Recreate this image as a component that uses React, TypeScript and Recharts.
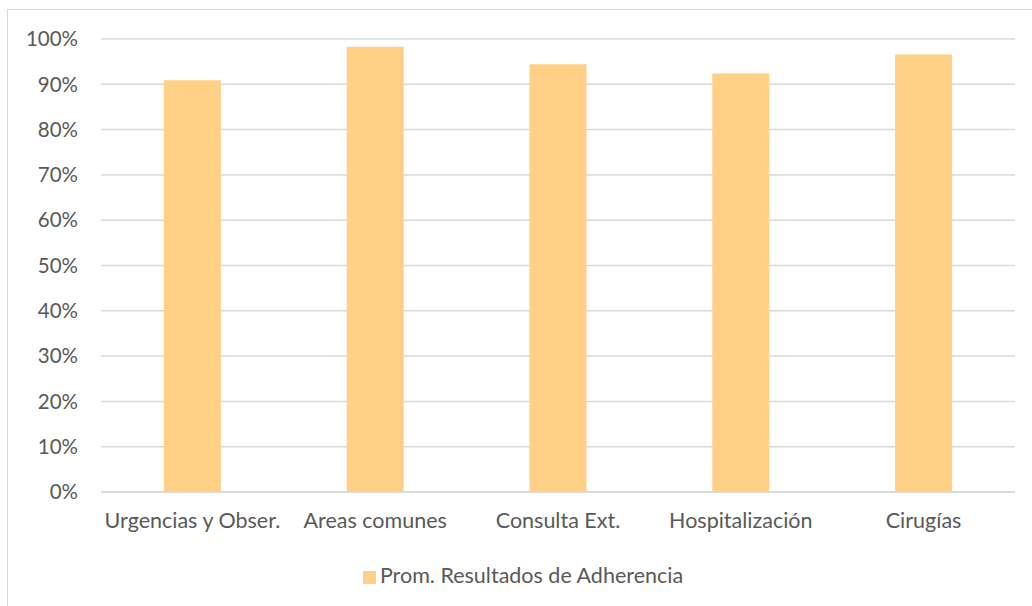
import React from "react";
import { BarChart, Bar, XAxis, YAxis, CartesianGrid, Legend } from "recharts";

// Áreas evaluadas y promedio de adherencia por área
const areas = [
  "Urgencias y Obser.",
  "Areas comunes",
  "Consulta Ext.",
  "Hospitalización",
  "Cirugías",
];
const adherencia = [0.909, 0.983, 0.944, 0.924, 0.966];
const yTicks = [0, 0.1, 0.2, 0.3, 0.4, 0.5, 0.6, 0.7, 0.8, 0.9, 1];
const seriesName = "Prom. Resultados de Adherencia";

const data = areas.map((area, i) => ({ area, valor: adherencia[i] }));

const FONT = "Lato, 'Open Sans', sans-serif";
const TEXT = "#595959";
const GRID = "#d9d9d9";
const FS = 21.5;

export default function App() {
  return (
    <div
      style={{
        position: "fixed",
        left: 0,
        top: 0,
        width: 1032,
        height: 606,
        overflow: "hidden",
        background: "#fff",
        fontFamily: FONT,
      }}
    >
      {/* chart frame */}
      <div
        style={{
          position: "absolute",
          left: 7,
          top: 9,
          width: 1060,
          height: 640,
          border: `1.5px solid ${GRID}`,
          boxSizing: "border-box",
        }}
      />
      <div style={{ position: "absolute", left: 0, top: 0 }}>
        <BarChart
          width={1032}
          height={606}
          data={data}
          margin={{ top: 39, right: 17, bottom: 58, left: 8 }}
          barCategoryGap="34.4%"
        >
          <CartesianGrid vertical={false} stroke={GRID} strokeWidth={1.5} />
          <XAxis
            dataKey="area"
            height={30}
            axisLine={{ stroke: GRID, strokeWidth: 1.5 }}
            tickLine={false}
            tickSize={0}
            tickMargin={21}
            interval={0}
            tick={{ fill: TEXT, fontSize: FS, fontFamily: FONT }}
          />
          <YAxis
            width={93}
            domain={[0, 1]}
            ticks={yTicks}
            axisLine={false}
            tickLine={false}
            tickSize={0}
            tickMargin={23}
            tickFormatter={(v: number) => `${Math.round(v * 100)}%`}
            tick={{ fill: TEXT, fontSize: 20.5, fontFamily: FONT }}
          />
          <Legend
            verticalAlign="bottom"
            align="center"
            iconType="square"
            iconSize={13}
            wrapperStyle={{
              left: 328,
              width: 400,
              bottom: 18,
              fontFamily: FONT,
              fontSize: FS,
            }}
            formatter={(value: string) => (
              <span style={{ color: TEXT }}>{value}</span>
            )}
          />
          <Bar
            dataKey="valor"
            name={seriesName}
            fill="#FFD086"
            isAnimationActive={false}
          />
        </BarChart>
      </div>
    </div>
  );
}
